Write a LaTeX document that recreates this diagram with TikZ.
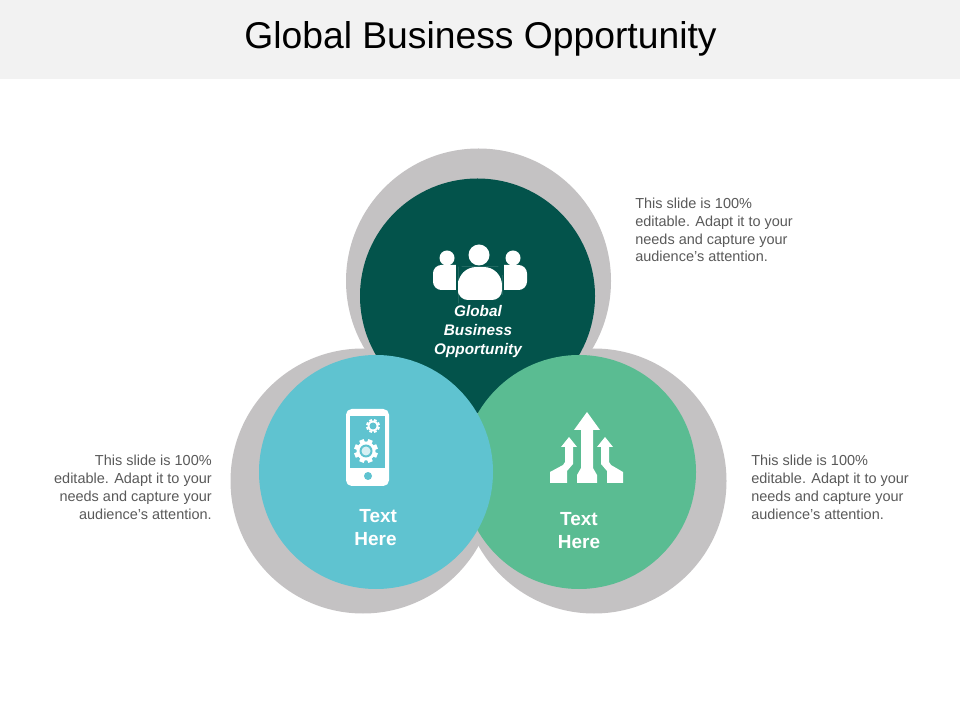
\documentclass[tikz,border=0pt]{standalone}
\usepackage{fontspec}
\setmainfont{Liberation Sans}
\definecolor{bandgray}{HTML}{F2F2F2}
\definecolor{ringgray}{HTML}{C4C2C3}
\definecolor{darkgreen}{HTML}{03534B}
\definecolor{tealblue}{HTML}{5FC3D0}
\definecolor{midgreen}{HTML}{5ABC92}
\definecolor{bodygray}{HTML}{595959}
\tikzset{
  note/.style={text=bodygray, font=\fontsize{10.3pt}{12.7pt}\selectfont, inner sep=0pt},
  caption/.style={text=white, font=\fontsize{13.5pt}{16.5pt}\selectfont\bfseries, align=center, inner sep=0pt},
}
\newcommand{\gearicon}[4]{
  \fill[white] (#1,#2) circle (#3);
  \foreach \a in {0,45,...,315}
    \draw[white, line width=#3*0.36pt] (#1,#2) ++(\a+22.5:#3*0.9) -- ++(\a+22.5:#3*0.36);
  \fill[tealblue] (#1,#2) circle (#4);
}

\begin{document}
\begin{tikzpicture}[x=0.025cm, y=-0.025cm]
\useasboundingbox (0,0) rectangle (960,720);
\fill[bandgray] (0,0) rectangle (960,79);

\fill[ringgray] (478.5,281) circle (132.5);
\fill[ringgray] (363,481) circle (132.5);
\fill[ringgray] (594,481) circle (132.5);
\fill[darkgreen] (477.5,296) circle (117.5);
\fill[midgreen] (579,472) circle (117);
\fill[tealblue] (376,472) circle (117);

\node[font=\fontsize{26.5pt}{30pt}\selectfont, text=black] (title) at (480.5,38.5) {Global Business Opportunity};

% people
\fill[white] (447,258) circle (7.5);
\fill[white] (513,258) circle (7.5);
\fill[white, rounded corners=6pt] (433,290) -- (433,265) -- (468,265) -- (468,290) -- cycle;
\fill[white, rounded corners=6pt] (527,290) -- (527,265) -- (492,265) -- (492,290) -- cycle;
\fill[darkgreen] (456,262) rectangle (504,302);
\fill[white] (479,255) circle (10.5);
\fill[white, rounded corners=13pt] (480,267) -- (458,267) -- (458,285) [rounded corners=7pt] -- (458,300) -- (502,300) -- (502,285) [rounded corners=13pt] -- (502,267) -- cycle;

% phone
\fill[white, rounded corners=4pt] (346,409) rectangle (389,486);
\fill[tealblue] (350,416) rectangle (385,468);
\fill[tealblue] (368,476) circle (4);
\gearicon{373}{426}{5.5}{3.5}
\gearicon{366}{451}{9.5}{6.5}
\fill[white!75!tealblue] (366,451) circle (4.5);

% arrows
\fill[white] (587,412) -- (600,430) -- (593,430) -- (593,468) -- (597,475) -- (597,483) -- (577,483) -- (577,475) -- (581,468) -- (581,430) -- (574,430) -- cycle;
\fill[white] (569,437) -- (577,447) -- (573,447) -- (573,464) -- (567,471) -- (567,483) -- (550,483) -- (550,472) -- (563,465) -- (565,462) -- (565,447) -- (561,447) -- cycle;
\fill[white] (605,437) -- (613,447) -- (609,447) -- (609,462) -- (611,465) -- (623,472) -- (623,483) -- (607,483) -- (607,471) -- (601,464) -- (601,447) -- (597,447) -- cycle;

\node[caption, font=\fontsize{10.9pt}{13.5pt}\selectfont\bfseries\itshape] (hub) at (478,331.5) {Global\\Business\\Opportunity};
\node[caption] (lefthere) at (375.5,527.5) {\ Text\\Here};
\node[caption] (righthere) at (579,530.5) {Text\\Here};

\node[note, anchor=west, align=left] (topnote) at (635,230) {This slide is 100\%\\editable. Adapt it to your\\needs and capture your\\audience's attention.};
\node[note, anchor=west, align=left] (rightnote) at (751,487.5) {This slide is 100\%\\editable. Adapt it to your\\needs and capture your\\audience's attention.};
\node[note, anchor=east, align=right] (leftnote) at (212,487.5) {This slide is 100\%\\editable. Adapt it to your\\needs and capture your\\audience's attention.};
\end{tikzpicture}
\end{document}
